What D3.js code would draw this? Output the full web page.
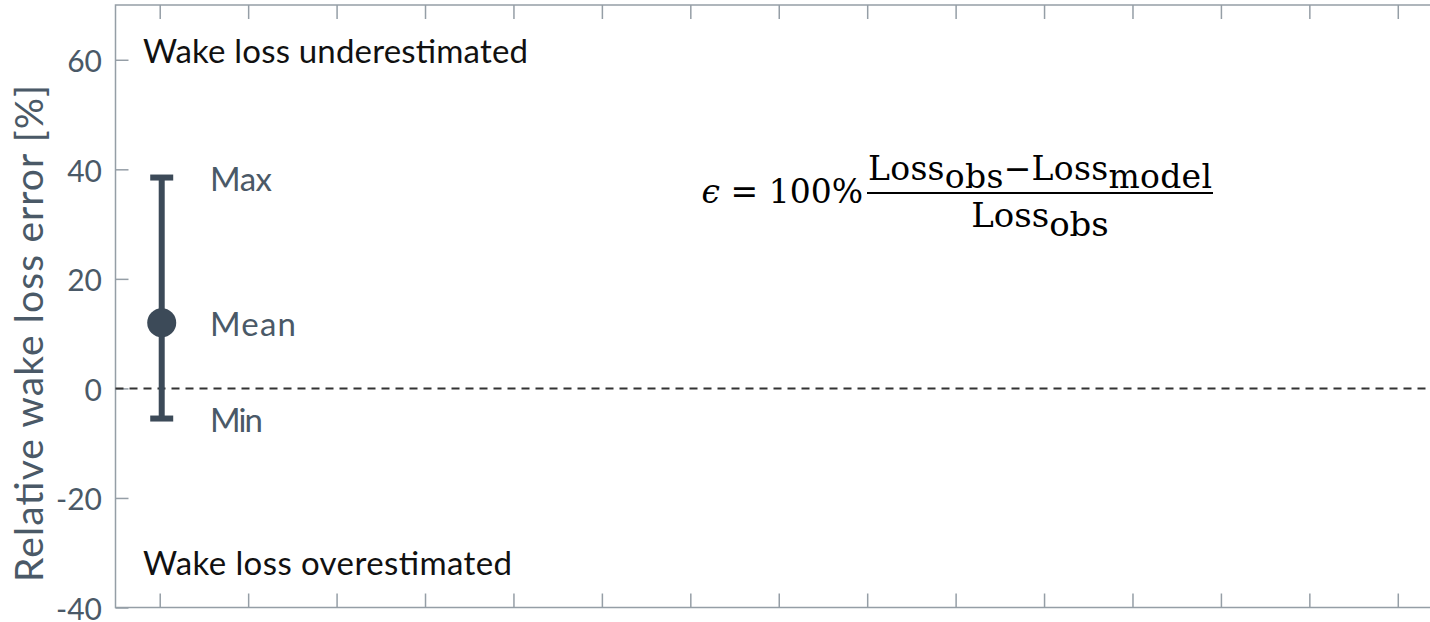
<!DOCTYPE html>
<html>
<head>
<meta charset="utf-8">
<script src="https://cdn.jsdelivr.net/npm/d3@7"></script>
<style>
  html, body { margin: 0; padding: 0; background: #fff; }
  svg { display: block; }
</style>
</head>
<body>
<svg id="chart" width="1430" height="622"></svg>
<script>
// ---- data ----
const yTicks = [-40, -20, 0, 20, 40, 60];
const yDomain = [-40, 70];
const xDomain = [0.5, 15.5];
const xTicks = [1, 2, 3, 4, 5, 6, 7, 8, 9, 10, 11, 12, 13, 14, 15];
const legendX = [1];
const legendMax = [38.5];
const legendMean = [12];
const legendMin = [-5.5];
const legendLabels = ["Max", "Mean", "Min"];
const yLabel = "Relative wake loss error [%]";
const topNote = "Wake loss underestimated";
const bottomNote = "Wake loss overestimated";

(function () {
// ---- layout ----
const svg = d3.select("#chart");
const mLeft = 115.5, mRight = 1442, mTop = 5, mBottom = 607.5;
const x = d3.scaleLinear().domain(xDomain).range([mLeft, mRight]);
const y = d3.scaleLinear().domain(yDomain).range([mBottom, mTop]);

const axisColor = "#959ea6";
const labelColor = "#4a5967";
const markColor = "#3c4a58";
const font = "Lato, 'Open Sans', sans-serif";

// frame
svg.append("rect").attr("x", mLeft).attr("y", mTop)
  .attr("width", mRight - mLeft).attr("height", mBottom - mTop)
  .attr("fill", "none").attr("stroke", axisColor).attr("stroke-width", 1.5);

// axes
const yAxis = d3.axisLeft(y).tickValues(yTicks).tickSizeInner(-13).tickSizeOuter(0)
  .tickPadding(13.5).tickFormat(d => String(d));
const gy = svg.append("g").attr("transform", `translate(${mLeft},0)`).call(yAxis);
gy.select(".domain").remove();
gy.selectAll(".tick line").attr("stroke", axisColor).attr("stroke-width", 1.5);
gy.selectAll(".tick text").attr("fill", labelColor).attr("font-family", font)
  .attr("font-size", 30).attr("dy", "0.4em");

const xb = d3.axisBottom(x).tickValues(xTicks).tickSizeInner(-14).tickSizeOuter(0).tickFormat("");
const gxb = svg.append("g").attr("transform", `translate(0,${mBottom})`).call(xb);
gxb.select(".domain").remove();
gxb.selectAll(".tick line").attr("stroke", axisColor).attr("stroke-width", 1.5);

const xt = d3.axisTop(x).tickValues(xTicks).tickSizeInner(-14).tickSizeOuter(0).tickFormat("");
const gxt = svg.append("g").attr("transform", `translate(0,${mTop})`).call(xt);
gxt.select(".domain").remove();
gxt.selectAll(".tick line").attr("stroke", axisColor).attr("stroke-width", 1.5);

// y label
svg.append("text")
  .attr("transform", `translate(43,333.5) rotate(-90)`)
  .attr("text-anchor", "middle").attr("fill", labelColor)
  .attr("font-family", font).attr("font-size", 39)
  .attr("textLength", 497).attr("lengthAdjust", "spacing").text(yLabel);

// zero line
svg.append("line").attr("x1", mLeft).attr("x2", mRight)
  .attr("y1", y(0)).attr("y2", y(0))
  .attr("stroke", "#333").attr("stroke-width", 2).attr("stroke-dasharray", "8,6");

// notes
svg.append("text").attr("x", 143).attr("y", 63)
  .attr("font-family", font).attr("font-size", 33).attr("fill", "#111")
  .attr("textLength", 385).attr("lengthAdjust", "spacing").text(topNote);
svg.append("text").attr("x", 143).attr("y", 575)
  .attr("font-family", font).attr("font-size", 33).attr("fill", "#111")
  .attr("textLength", 369).attr("lengthAdjust", "spacing").text(bottomNote);

// error bar legend
const g = svg.append("g");
legendX.forEach((d, i) => {
  const cx = x(d) + 2;
  g.append("line").attr("x1", cx).attr("x2", cx)
    .attr("y1", y(legendMax[i])).attr("y2", y(legendMin[i]))
    .attr("stroke", markColor).attr("stroke-width", 6);
  [legendMax[i], legendMin[i]].forEach(v => {
    g.append("line").attr("x1", cx - 11.5).attr("x2", cx + 11.5)
      .attr("y1", y(v)).attr("y2", y(v))
      .attr("stroke", markColor).attr("stroke-width", 6);
  });
  g.append("circle").attr("cx", cx).attr("cy", y(legendMean[i])).attr("r", 14.5)
    .attr("fill", markColor);
  const vals = [legendMax[i], legendMean[i], legendMin[i]];
  const lens = [62, 86, 53];
  legendLabels.forEach((t, j) => {
    g.append("text").attr("x", 210).attr("y", y(vals[j]) + 13)
      .attr("font-family", font).attr("font-size", 33).attr("fill", labelColor)
      .attr("textLength", lens[j]).attr("lengthAdjust", "spacing").text(t);
  });
});

// formula
const fg = svg.append("g").attr("font-family", "'DejaVu Serif', serif").attr("fill", "#000");
const fracL = 867, fracR = 1213, fracY = 193;
fg.append("text").attr("x", fracL - 4).attr("y", 203).attr("font-size", 33)
  .attr("text-anchor", "end")
  .html('<tspan font-style="italic">ϵ</tspan> = 100%');
fg.append("line").attr("x1", fracL).attr("x2", fracR).attr("y1", fracY).attr("y2", fracY)
  .attr("stroke", "#000").attr("stroke-width", 2);
fg.append("text").attr("x", fracL + 1).attr("y", 180)
  .attr("font-size", 33).attr("textLength", fracR - fracL - 2).attr("lengthAdjust", "spacing")
  .html('Loss<tspan dy="8">obs</tspan><tspan dy="-8">−Loss</tspan><tspan dy="8">model</tspan>');
fg.append("text").attr("x", (fracL + fracR) / 2).attr("y", 227).attr("text-anchor", "middle")
  .attr("font-size", 34)
  .html('Loss<tspan dy="9">obs</tspan>');
})();
</script>
</body>
</html>
